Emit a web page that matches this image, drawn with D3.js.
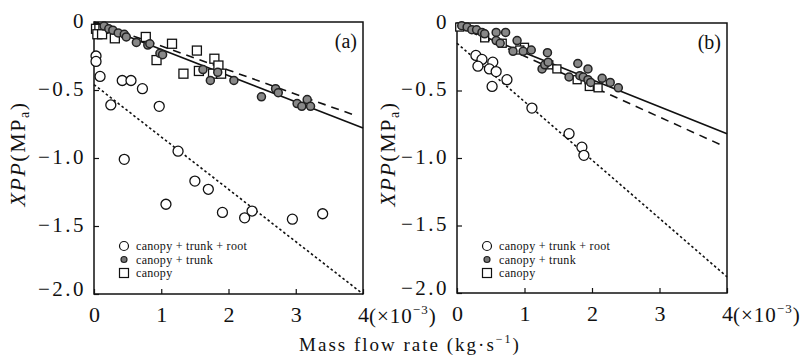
<!DOCTYPE html>
<html>
<head>
<meta charset="utf-8">
<script src="https://cdn.jsdelivr.net/npm/d3@7"></script>
<style>
  body { margin: 0; background: #fff; }
  svg { display: block; font-family: "Liberation Serif", "Times New Roman", serif; }
</style>
</head>
<body>
<script>
;(() => {
    var width = 812, height = 357;
    var serif = '"Liberation Serif", "Times New Roman", serif';

    // axes
    var xTicks = [0, 1, 2, 3, 4],
        yTicks = [0, -0.5, -1.0, -1.5, -2.0],
        yTickLabels = ['0', '\u22120.5', '\u22121.0', '\u22121.5', '\u22122.0'];
    var seriesNames = ['canopy + trunk + root', 'canopy + trunk', 'canopy'];

    // panel (a): canopy + trunk + root (open circles)
    var aRootX = [0.03, 0.03, 0.09, 0.42, 0.55, 0.72, 0.25, 0.97, 0.45, 1.25, 1.07, 1.50, 1.70, 1.91, 2.24, 2.35, 2.95, 3.40],
        aRootY = [-0.25, -0.29, -0.40, -0.43, -0.43, -0.49, -0.61, -0.62, -1.01, -0.95, -1.34, -1.17, -1.23, -1.40, -1.44, -1.39, -1.45, -1.41];
    // panel (a): canopy + trunk (filled circles)
    var aTrunkX = [0.15, 0.22, 0.28, 0.36, 0.45, 0.48, 0.63, 0.80, 0.83, 0.98, 1.02, 1.62, 1.73, 1.84, 2.08, 2.49, 2.70, 2.74, 3.02, 3.09, 3.17, 3.22],
        aTrunkY = [-0.03, -0.05, -0.06, -0.08, -0.09, -0.11, -0.15, -0.17, -0.16, -0.23, -0.24, -0.35, -0.43, -0.37, -0.43, -0.55, -0.49, -0.52, -0.60, -0.62, -0.57, -0.62];
    // panel (a): canopy (squares)
    var aCanopyX = [0.03, 0.08, 0.14, 0.05, 0.12, 0.31, 0.77, 1.16, 1.53, 1.79, 0.93, 1.33, 1.56, 1.77, 1.85, 1.89],
        aCanopyY = [-0.05, -0.05, -0.05, -0.09, -0.09, -0.12, -0.11, -0.16, -0.21, -0.27, -0.28, -0.38, -0.36, -0.38, -0.32, -0.38];

    // panel (a) regression lines
    var aSolidX = [0, 4], aSolidY = [-0.01, -0.78],
        aDashX = [0, 3.9], aDashY = [0, -0.69],
        aDotX = [0, 4], aDotY = [-0.46, -2.0];

    // panel (b): canopy + trunk + root
    var bRootX = [0.28, 0.37, 0.31, 0.53, 0.48, 0.58, 0.74, 0.52, 1.11, 1.66, 1.85, 1.88],
        bRootY = [-0.24, -0.27, -0.32, -0.29, -0.34, -0.36, -0.42, -0.47, -0.63, -0.82, -0.92, -0.98];
    // panel (b): canopy + trunk
    var bTrunkX = [0.07, 0.15, 0.22, 0.29, 0.37, 0.41, 0.58, 0.72, 0.58, 0.64, 0.89, 0.83, 0.98, 1.10, 1.34, 1.26, 1.30, 1.35, 1.79, 1.94, 1.66, 1.82, 1.87, 1.94, 1.98, 2.15, 2.27, 2.39],
        bTrunkY = [-0.02, -0.03, -0.05, -0.05, -0.07, -0.08, -0.07, -0.07, -0.13, -0.15, -0.13, -0.21, -0.21, -0.20, -0.22, -0.34, -0.31, -0.29, -0.30, -0.34, -0.40, -0.39, -0.40, -0.42, -0.44, -0.41, -0.44, -0.48];
    // panel (b): canopy
    var bCanopyX = [0.04, 0.41, 0.67, 1.00, 0.93, 1.36, 1.48, 1.78, 1.96, 2.09],
        bCanopyY = [-0.03, -0.11, -0.15, -0.18, -0.20, -0.31, -0.34, -0.42, -0.47, -0.48];

    // panel (b) regression lines
    var bSolidX = [0, 4], bSolidY = [-0.02, -0.82],
        bDashX = [0, 3.9], bDashY = [-0.02, -0.90],
        bDotX = [0, 4], bDotY = [-0.15, -1.88];

    var zip = (xs, ys) => xs.map((x, i) => ({ x: x, y: ys[i] }));

    var panels = [
        { name: '(a)', left: 94, right: 363, top: 22, bottom: 294, sq: 9, labelX: 25,
          root: zip(aRootX, aRootY), trunk: zip(aTrunkX, aTrunkY), canopy: zip(aCanopyX, aCanopyY),
          solid: zip(aSolidX, aSolidY), dash: zip(aDashX, aDashY), dot: zip(aDotX, aDotY) },
        { name: '(b)', left: 457, right: 727, top: 23, bottom: 293, sq: 8, labelX: 395,
          root: zip(bRootX, bRootY), trunk: zip(bTrunkX, bTrunkY), canopy: zip(bCanopyX, bCanopyY),
          solid: zip(bSolidX, bSolidY), dash: zip(bDashX, bDashY), dot: zip(bDotX, bDotY) }
    ];

    var svg = d3.select('body')
        .append('svg')
        .attr('width', width)
        .attr('height', height);

    panels.forEach(p => {
        var x = d3.scaleLinear().domain([0, 4]).range([p.left, p.right]),
            y = d3.scaleLinear().domain([-2, 0]).range([p.bottom, p.top]);
        var g = svg.append('g');

        // frame
        g.append('rect')
            .attr('x', p.left).attr('y', p.top)
            .attr('width', p.right - p.left).attr('height', p.bottom - p.top)
            .attr('fill', 'none').attr('stroke', '#111').attr('stroke-width', 1.5);

        // x axis, inward ticks
        var xAxis = g.append('g')
            .attr('transform', 'translate(0,' + p.bottom + ')')
            .call(d3.axisBottom(x).tickValues(xTicks).tickSizeInner(-5).tickSizeOuter(0).tickPadding(12).tickFormat(d3.format('d')));
        xAxis.attr('font-family', serif);
        xAxis.select('.domain').remove();
        xAxis.selectAll('text')
            .attr('font-size', 22).attr('fill', '#111');
        xAxis.selectAll('line').attr('stroke', '#111').attr('stroke-width', 1.2);

        // the (×10^-3) after 4
        var mult = g.append('text')
            .attr('x', x(4) + 6).attr('y', p.bottom + 29)
            .attr('font-size', 21).attr('fill', '#111')
            .attr('letter-spacing', 1);
        mult.append('tspan').text('(\u00d710');
        mult.append('tspan').attr('font-size', 13).attr('dy', -9).text('\u22123');
        mult.append('tspan').attr('dy', 9).text(')');

        // y axis
        var yAxis = g.append('g')
            .attr('transform', 'translate(' + p.left + ',0)')
            .call(d3.axisLeft(y).tickValues(yTicks).tickSizeInner(-5).tickSizeOuter(0).tickPadding(8)
                .tickFormat((d, i) => yTickLabels[i]));
        yAxis.attr('font-family', serif);
        yAxis.select('.domain').remove();
        yAxis.selectAll('text')
            .attr('font-size', 21).attr('fill', '#111')
            .attr('dy', d => d === -2 ? '0.05em' : '0.25em')
            .attr('letter-spacing', 2.5);
        yAxis.selectAll('line').attr('stroke', '#111').attr('stroke-width', 1.2);

        // y label
        var yl = g.append('text')
            .attr('transform', 'translate(' + p.labelX + ',' + ((p.top + p.bottom) / 2 - 4) + ') rotate(-90)')
            .attr('text-anchor', 'middle')
            .attr('font-size', 22).attr('fill', '#111')
            .attr('letter-spacing', 1.5);
        yl.append('tspan').attr('font-style', 'italic').text('XPP');
        yl.append('tspan').text('(MP');
        yl.append('tspan').attr('font-size', 14).attr('dy', 4).text('a');
        yl.append('tspan').attr('dy', -4).text(')');

        // panel label
        g.append('text')
            .attr('x', p.right - 6).attr('y', p.top + 26)
            .attr('text-anchor', 'end')
            .attr('font-size', 20).attr('fill', '#111')
            .text(p.name);

        // regression lines
        var line = d3.line().x(d => x(d.x)).y(d => y(d.y));
        g.append('path').attr('d', line(p.solid))
            .attr('fill', 'none').attr('stroke', '#111').attr('stroke-width', 1.6);
        g.append('path').attr('d', line(p.dash))
            .attr('fill', 'none').attr('stroke', '#111').attr('stroke-width', 1.6)
            .attr('stroke-dasharray', '8,6');
        g.append('path').attr('d', line(p.dot))
            .attr('fill', 'none').attr('stroke', '#111').attr('stroke-width', 1.6)
            .attr('stroke-dasharray', '2.5,2.5');

        // canopy squares
        g.selectAll('rect.canopy')
            .data(p.canopy)
            .enter()
            .append('rect')
            .classed('canopy', true)
            .attr('x', d => x(d.x) - p.sq / 2)
            .attr('y', d => y(d.y) - p.sq / 2)
            .attr('width', p.sq).attr('height', p.sq)
            .attr('fill', '#fff').attr('stroke', '#111').attr('stroke-width', 1.3);

        // canopy + trunk
        g.selectAll('circle.trunk')
            .data(p.trunk)
            .enter()
            .append('circle')
            .classed('trunk', true)
            .attr('cx', d => x(d.x)).attr('cy', d => y(d.y))
            .attr('r', 4)
            .attr('fill', '#888').attr('stroke', '#222').attr('stroke-width', 1.5);

        // canopy + trunk + root
        g.selectAll('circle.root')
            .data(p.root)
            .enter()
            .append('circle')
            .classed('root', true)
            .attr('cx', d => x(d.x)).attr('cy', d => y(d.y))
            .attr('r', 5)
            .attr('fill', '#fff').attr('stroke', '#111').attr('stroke-width', 1.3);

        // legend
        var lx = p.left + 30, ly = 246, step = 13.5;
        var leg = g.append('g');
        leg.append('circle').attr('cx', lx).attr('cy', ly).attr('r', 4.5)
            .attr('fill', '#fff').attr('stroke', '#111').attr('stroke-width', 1.2);
        leg.append('circle').attr('cx', lx).attr('cy', ly + step).attr('r', 3)
            .attr('fill', '#777').attr('stroke', '#222').attr('stroke-width', 1.2);
        leg.append('rect').attr('x', lx - 4.5).attr('y', ly + 2 * step - 4.5)
            .attr('width', 9).attr('height', 9)
            .attr('fill', '#fff').attr('stroke', '#111').attr('stroke-width', 1.2);
        leg.selectAll('text')
            .data(seriesNames)
            .enter()
            .append('text')
            .attr('x', lx + 12)
            .attr('y', (d, i) => ly + i * step + 4)
            .attr('font-size', 12).attr('fill', '#111')
            .attr('letter-spacing', 0.3)
            .text(d => d);
    });

    // x title
    var xt = svg.append('text')
        .attr('x', 410).attr('y', 351)
        .attr('text-anchor', 'middle')
        .attr('font-size', 19).attr('fill', '#111')
        .attr('letter-spacing', 2);
    xt.append('tspan').text('Mass flow rate (kg\u00b7s');
    xt.append('tspan').attr('font-size', 12).attr('dy', -8).text('\u22121');
    xt.append('tspan').attr('dy', 8).text(')');
})();
</script>
</body>
</html>
